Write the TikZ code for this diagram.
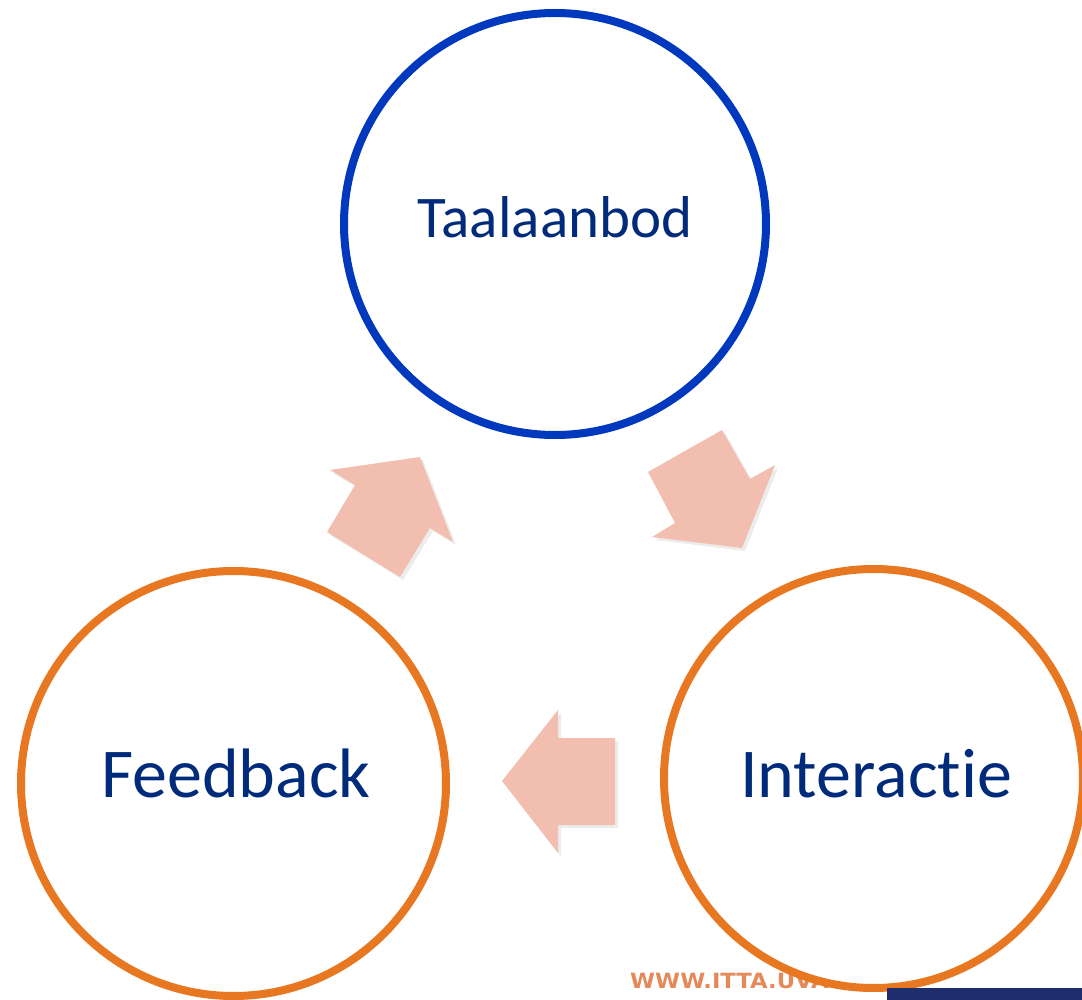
\documentclass[tikz,border=0pt]{standalone}
\usepackage{fontspec}
\setmainfont[Ligatures={NoCommon}]{Carlito}
\newfontfamily\wwwfont{DejaVu Sans}
\usetikzlibrary{shadows}
\definecolor{cblue}{RGB}{0,56,190}
\definecolor{corange}{RGB}{232,119,34}
\definecolor{cweb}{RGB}{228,138,90}
\definecolor{ctext}{RGB}{0,42,122}
\definecolor{cpink}{RGB}{242,190,176}
\definecolor{cnavy}{RGB}{30,45,110}
\begin{document}
\begin{tikzpicture}[x=1pt,y=-1pt,
  ring/.style={circle,inner sep=0pt,line width=8pt,fill=white,
    drop shadow={shadow xshift=2pt,shadow yshift=-3pt,opacity=0.12}},
  flow/.style={fill=cpink,drop shadow={shadow xshift=3pt,shadow yshift=-3pt,opacity=0.15}},
  lbl/.style={text=ctext}]
\useasboundingbox (0,0) rectangle (1082,1000);
\node[anchor=base west,text=cweb,font=\wwwfont\bfseries\fontsize{21}{21}\selectfont,inner sep=0pt,xscale=1.08,transform shape] (www) at (630,988) {WWW.ITTA.UVA.NL};
\node[ring,draw=cblue,minimum size=422pt] (taal) at (555,224) {};
\node[ring,draw=corange,minimum size=425pt] (feed) at (233.5,783.5) {};
\node[ring,draw=corange,minimum size=419pt] (inter) at (873.5,778.5) {};
\fill[cnavy] (887,988) rectangle (1082,1000);
\node[lbl,font=\fontsize{59}{59}\selectfont,anchor=base] at (555,238) {Taalaanbod};
\node[lbl,font=\fontsize{70}{70}\selectfont,anchor=base] at (236,797) {Feedback};
\node[lbl,font=\fontsize{70}{70}\selectfont,anchor=base] at (876,797) {Interactie};
% arrows
\path[flow] (330,470) -- (420,457) -- (453,542) -- (430,528) -- (400,577) -- (327,532) -- (355,485) -- cycle;
\path[flow] (722,430) -- (750,479) -- (775,465) -- (742,548) -- (652,537) -- (675,523) -- (648,472) -- cycle;
\path[flow] (502,781) -- (558,710) -- (558,738) -- (615,738) -- (615,825) -- (558,825) -- (558,853) -- cycle;
\end{tikzpicture}
\end{document}
